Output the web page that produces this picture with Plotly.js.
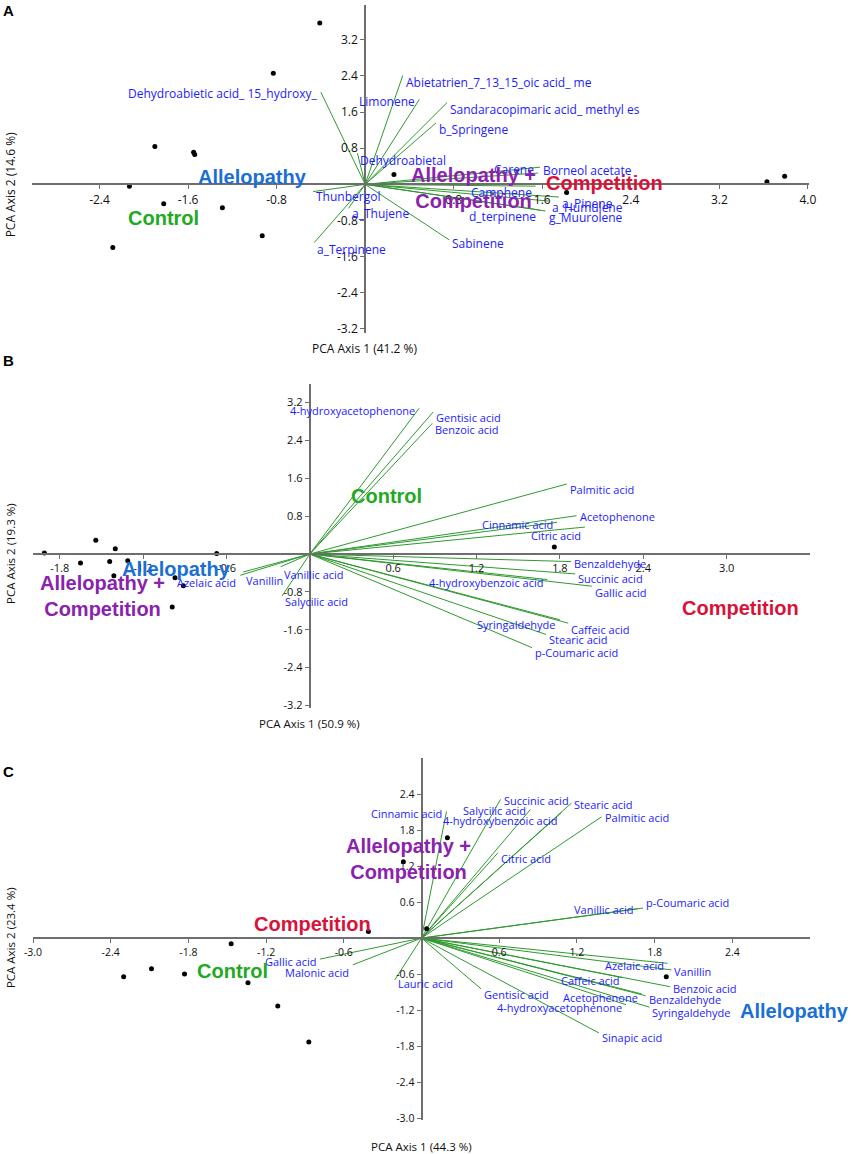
<!DOCTYPE html>
<html>
<head>
<meta charset="utf-8">
<script src="https://cdn.plot.ly/plotly-3.0.1.min.js"></script>
<style>
html,body{margin:0;padding:0;background:#ffffff;}
#chart{width:851px;height:1154px;}
</style>
</head>
<body>
<div id="chart"></div>
<script>
// ---------------- DATA : panel A (volatile terpenes) ----------------
const aScoreX = [-0.41, -0.83, -1.90, -1.55, -1.54, -2.13, -1.82, -1.29, -2.28, -0.93, 0.26, 1.82, 3.63, 3.79];
const aScoreY = [3.57, 2.46, 0.84, 0.71, 0.66, -0.04, -0.43, -0.52, -1.40, -1.14, 0.22, -0.18, 0.06, 0.18];
const aVarNames = ["Dehydroabietic acid_ 15_hydroxy_", "Abietatrien_7_13_15_oic acid_ me", "Limonene",
  "Sandaracopimaric acid_ methyl es", "b_Springene", "Dehydroabietal", "Thunbergol", "a_Thujene",
  "a_Terpinene", "Sabinene", "Carene", "Borneol acetate", "Camphene", "a_Pinene", "a_Humulene",
  "d_terpinene", "g_Muurolene"];
const aLoadX = [-0.40, 0.34, 0.49, 0.74, 0.64, -0.07, -0.47, -0.15, -0.46, 0.76, 1.56, 1.58, 1.54, 1.75, 1.66, 1.58, 1.63];
const aLoadY = [2.04, 2.41, 1.88, 1.81, 1.36, 0.69, -0.16, -0.53, -1.29, -1.23, 0.25, 0.38, -0.04, -0.28, -0.37, -0.57, -0.59];
const aGroups = ["Allelopathy", "Control", "Allelopathy +<br>Competition", "Competition"];
const aGroupX = [-1.02, -1.82, 0.98, 2.16];
const aGroupY = [0.17, -0.75, -0.09, 0.04];
const aXTicks = [-2.4, -1.6, -0.8, 0.8, 1.6, 2.4, 3.2, 4.0];
const aXTickText = ["-2.4", "-1.6", "-0.8", "0.8", "1.6", "2.4", "3.2", "4.0"];
const aYTicks = [-3.2, -2.4, -1.6, -0.8, 0.8, 1.6, 2.4, 3.2];
const aYTickText = ["-3.2", "-2.4", "-1.6", "-0.8", "0.8", "1.6", "2.4", "3.2"];
const aXTitle = "PCA Axis 1 (41.2 %)";
const aYTitle = "PCA Axis 2 (14.6 %)";

// ---------------- DATA : panel B (root phenolics) ----------------
const bScoreX = [-1.91, -1.54, -1.65, -1.40, -1.44, -1.31, -1.41, -0.97, -0.91, -0.99, -0.67, 1.76];
const bScoreY = [0.02, 0.29, -0.19, 0.11, -0.16, -0.14, -0.46, -0.50, -0.67, -1.12, 0.01, 0.15];
const bVarNames = ["4-hydroxyacetophenone", "Gentisic acid", "Benzoic acid", "Palmitic acid", "Acetophenone",
  "Cinnamic acid", "Citric acid", "Benzaldehyde", "Succinic acid", "Gallic acid", "4-hydroxybenzoic acid",
  "Caffeic acid", "Syringaldehyde", "Stearic acid", "p-Coumaric acid", "Vanillic acid", "Salycilic acid",
  "Vanillin", "Azelaic acid"];
const bLoadX = [0.787, 0.888, 0.881, 1.85, 1.92, 1.78, 1.98, 1.88, 1.91, 2.03, 1.71, 1.86, 1.80, 1.70, 1.60, -0.21, -0.20, -0.48, -0.50];
const bLoadY = [3.08, 3.00, 2.76, 1.48, 0.81, 0.67, 0.57, -0.16, -0.42, -0.68, -0.54, -1.46, -1.39, -1.70, -1.98, -0.27, -0.89, -0.38, -0.45];
const bGroups = ["Control", "Allelopathy", "Allelopathy +<br>Competition", "Competition"];
const bGroupX = [0.55, -0.96, -1.49, 3.10];
const bGroupY = [1.23, -0.31, -0.88, -1.14];
const bXTicks = [-1.8, -1.2, -0.6, 0.6, 1.2, 1.8, 2.4, 3.0];
const bXTickText = ["-1.8", "-1.2", "-0.6", "0.6", "1.2", "1.8", "2.4", "3.0"];
const bYTicks = [-3.2, -2.4, -1.6, -0.8, 0.8, 1.6, 2.4, 3.2];
const bYTickText = ["-3.2", "-2.4", "-1.6", "-0.8", "0.8", "1.6", "2.4", "3.2"];
const bXTitle = "PCA Axis 1 (50.9 %)";
const bYTitle = "PCA Axis 2 (19.3 %)";

// ---------------- DATA : panel C (soil phenolics) ----------------
const cScoreX = [-2.30, -2.085, -1.83, -1.47, -1.34, -1.11, -0.87, -0.41, -0.14, 0.20, 0.04, 1.89];
const cScoreY = [-0.645, -0.51, -0.60, -0.095, -0.745, -1.13, -1.73, 0.11, 1.27, 1.67, 0.155, -0.645];
const cVarNames = ["Cinnamic acid", "Succinic acid", "Salycilic acid", "4-hydroxybenzoic acid", "Stearic acid",
  "Palmitic acid", "Citric acid", "p-Coumaric acid", "Vanillic acid", "Azelaic acid", "Vanillin",
  "Benzoic acid", "Benzaldehyde", "Syringaldehyde", "Acetophenone", "Caffeic acid", "4-hydroxyacetophenone",
  "Gentisic acid", "Sinapic acid", "Gallic acid", "Malonic acid", "Lauric acid"];
const cLoadX = [0.193, 0.61, 0.84, 1.08, 1.158, 1.39, 0.59, 1.71, 1.67, 1.90, 1.93, 1.92, 1.73, 1.76, 1.70, 1.555, 1.58, 0.46, 1.37, -0.785, -0.53, -0.206];
const cLoadY = [2.11, 2.31, 2.14, 2.09, 2.25, 2.02, 1.42, 0.50, 0.49, -0.42, -0.53, -0.81, -0.96, -1.15, -0.93, -0.66, -1.11, -0.845, -1.58, -0.35, -0.445, -0.695];
const cGroups = ["Allelopathy +<br>Competition", "Competition", "Control", "Allelopathy"];
const cGroupX = [-0.10, -0.84, -1.46, 2.88];
const cGroupY = [1.32, 0.24, -0.54, -1.22];
const cXTicks = [-3.0, -2.4, -1.8, -1.2, -0.6, 0.6, 1.2, 1.8, 2.4];
const cXTickText = ["-3.0", "-2.4", "-1.8", "-1.2", "-0.6", "0.6", "1.2", "1.8", "2.4"];
const cYTicks = [-3.0, -2.4, -1.8, -1.2, -0.6, 0.6, 1.2, 1.8, 2.4];
const cYTickText = ["-3.0", "-2.4", "-1.8", "-1.2", "-0.6", "0.6", "1.2", "1.8", "2.4"];
const cXTitle = "PCA Axis 1 (44.3 %)";
const cYTitle = "PCA Axis 2 (23.4 %)";

// ---------------- STYLE / PLACEMENT ----------------
const FONT = "Open Sans, Noto Sans, sans-serif";
const BOLD_FONT = "Liberation Sans, Arial, sans-serif";
const AXIS_COLOR = "#6e6e6e";
const LINE_GREEN = "#2e9a2e";
const LABEL_BLUE = "#1c1cff";
const GROUP_COLORS = {
  "Allelopathy": "#1a6fd6",
  "Control": "#22aa22",
  "Allelopathy +<br>Competition": "#8b22ad",
  "Competition": "#d8133a"
};
// label side: "l" = text starts at vector tip, "r" = text ends at vector tip; dy = px downward
const aPlace = {
  "Dehydroabietic acid_ 15_hydroxy_": ["r", 1], "Abietatrien_7_13_15_oic acid_ me": ["l", 7],
  "Limonene": ["r", 2], "Sandaracopimaric acid_ methyl es": ["l", 7], "b_Springene": ["l", 7],
  "Dehydroabietal": ["l", 7], "Thunbergol": ["l", 5], "a_Thujene": ["l", 5], "a_Terpinene": ["l", 7],
  "Sabinene": ["l", 4], "Carene": ["r", -4], "Borneol acetate": ["l", 3], "Camphene": ["r", 6],
  "a_Pinene": ["l", 6], "a_Humulene": ["l", 6], "d_terpinene": ["r", 6], "g_Muurolene": ["l", 6]
};
const bPlace = {
  "4-hydroxyacetophenone": ["r", 2], "Gentisic acid": ["l", 5], "Benzoic acid": ["l", 6],
  "Palmitic acid": ["l", 6], "Acetophenone": ["l", 1], "Cinnamic acid": ["r", 2], "Citric acid": ["r", 8],
  "Benzaldehyde": ["l", 2], "Succinic acid": ["l", 5], "Gallic acid": ["l", 6],
  "4-hydroxybenzoic acid": ["r", 3], "Caffeic acid": ["l", 6], "Syringaldehyde": ["r", 5],
  "Stearic acid": ["l", 5], "p-Coumaric acid": ["l", 5], "Vanillic acid": ["l", 8],
  "Salycilic acid": ["l", 5], "Vanillin": ["l", 8], "Azelaic acid": ["r", 7]
};
const cPlace = {
  "Cinnamic acid": ["r", 2], "Succinic acid": ["l", 1], "Salycilic acid": ["r", 1],
  "4-hydroxybenzoic acid": ["r", 8], "Stearic acid": ["l", 1], "Palmitic acid": ["l", 1],
  "Citric acid": ["l", 6], "p-Coumaric acid": ["l", -6], "Vanillic acid": ["r", 1],
  "Azelaic acid": ["r", 2], "Vanillin": ["l", 2], "Benzoic acid": ["l", 2], "Benzaldehyde": ["l", 4],
  "Syringaldehyde": ["l", 5], "Acetophenone": ["r", 4], "Caffeic acid": ["r", 3],
  "4-hydroxyacetophenone": ["r", 3], "Gentisic acid": ["l", 6], "Sinapic acid": ["l", 5],
  "Gallic acid": ["r", 2], "Malonic acid": ["r", 8], "Lauric acid": ["l", 4]
};

const W = 851, H = 1154;
const panels = [
  { letter: "A", letterY: 10, ax: "", sx: aScoreX, sy: aScoreY, names: aVarNames, lx: aLoadX, ly: aLoadY,
    groups: aGroups, gx: aGroupX, gy: aGroupY, place: aPlace,
    xt: aXTicks, xtt: aXTickText, yt: aYTicks, ytt: aYTickText, xTitle: aXTitle, yTitle: aYTitle,
    xpx: [32, 809], ypx: [5, 333], xr: [-3.01, 4.01], yr: [-3.29, 3.97],
    labelSize: 12, tickSize: 12, titleSize: 12, titleGap: 15 },
  { letter: "B", letterY: 360, ax: "2", sx: bScoreX, sy: bScoreY, names: bVarNames, lx: bLoadX, ly: bLoadY,
    groups: bGroups, gx: bGroupX, gy: bGroupY, place: bPlace,
    xt: bXTicks, xtt: bXTickText, yt: bYTicks, ytt: bYTickText, xTitle: bXTitle, yTitle: bYTitle,
    xpx: [33, 810], ypx: [384, 708], xr: [-1.992, 3.60], yr: [-3.254, 3.593],
    labelSize: 11, tickSize: 11, titleSize: 11.5, titleGap: 15 },
  { letter: "C", letterY: 771, ax: "3", sx: cScoreX, sy: cScoreY, names: cVarNames, lx: cLoadX, ly: cLoadY,
    groups: cGroups, gx: cGroupX, gy: cGroupY, place: cPlace,
    xt: cXTicks, xtt: cXTickText, yt: cYTicks, ytt: cYTickText, xTitle: cXTitle, yTitle: cYTitle,
    xpx: [33, 810], ypx: [758, 1120], xr: [-3.0, 3.0], yr: [-3.03, 3.0],
    labelSize: 11, tickSize: 10.5, titleSize: 11.5, titleGap: 26 }
];

const traces = [];
const annotations = [];
const layout = {
  width: W, height: H,
  margin: { l: 0, r: 0, t: 0, b: 0, pad: 0 },
  paper_bgcolor: "#ffffff", plot_bgcolor: "rgba(0,0,0,0)",
  showlegend: false,
  font: { family: FONT, color: "#111111" },
  annotations: annotations
};

panels.forEach(p => {
  const xref = "x" + p.ax, yref = "y" + p.ax;
  const xd = [p.xpx[0] / W, p.xpx[1] / W];
  const yd = [1 - p.ypx[1] / H, 1 - p.ypx[0] / H];
  const xAxisPos = yd[0] + (0 - p.yr[0]) / (p.yr[1] - p.yr[0]) * (yd[1] - yd[0]);
  const yAxisPos = xd[0] + (0 - p.xr[0]) / (p.xr[1] - p.xr[0]) * (xd[1] - xd[0]);
  const common = {
    showgrid: false, zeroline: false, showline: true, linecolor: AXIS_COLOR, linewidth: 2,
    ticks: "outside", ticklen: 4, tickwidth: 1, tickcolor: AXIS_COLOR, tickmode: "array",
    tickfont: { family: FONT, size: p.tickSize, color: "#111111" }, fixedrange: true, anchor: "free"
  };
  layout["xaxis" + p.ax] = Object.assign({}, common, {
    domain: xd, range: p.xr, position: xAxisPos, side: "bottom",
    tickvals: p.xt, ticktext: p.xtt
  });
  layout["yaxis" + p.ax] = Object.assign({}, common, {
    domain: yd, range: p.yr, position: yAxisPos, side: "left",
    tickvals: p.yt, ticktext: p.ytt
  });

  // loading vectors
  const vx = [], vy = [];
  p.lx.forEach((x, i) => { vx.push(0, x, null); vy.push(0, p.ly[i], null); });
  traces.push({ type: "scatter", mode: "lines", x: vx, y: vy, xaxis: xref, yaxis: yref,
    line: { color: LINE_GREEN, width: 1 }, hoverinfo: "skip" });
  // sample scores
  traces.push({ type: "scatter", mode: "markers", x: p.sx, y: p.sy, xaxis: xref, yaxis: yref,
    marker: { color: "#000000", size: 5 }, hoverinfo: "x+y" });

  // vector labels
  p.names.forEach((name, i) => {
    const pl = p.place[name] || ["l", 5];
    annotations.push({
      xref: xref, yref: yref, x: p.lx[i], y: p.ly[i], text: name, showarrow: false,
      xanchor: pl[0] === "l" ? "left" : "right", yanchor: "middle",
      xshift: pl[0] === "l" ? 1 : -2, yshift: -pl[1],
      font: { family: FONT, size: p.labelSize, color: LABEL_BLUE }
    });
  });
  // group labels
  p.groups.forEach((g, i) => {
    annotations.push({
      xref: xref, yref: yref, x: p.gx[i], y: p.gy[i], text: "<b>" + g + "</b>", showarrow: false,
      xanchor: "center", yanchor: "middle", align: "center",
      font: { family: BOLD_FONT, size: 20, color: GROUP_COLORS[g] }
    });
  });
  // axis titles
  annotations.push({
    xref: xref, yref: "paper", x: 0, y: yd[0], yshift: -p.titleGap, text: p.xTitle, showarrow: false,
    xanchor: "center", yanchor: "middle", font: { family: FONT, size: p.titleSize, color: "#111111" }
  });
  annotations.push({
    xref: "paper", yref: yref, x: 10 / W, y: 0, text: p.yTitle, showarrow: false, textangle: -90,
    xanchor: "center", yanchor: "middle", font: { family: FONT, size: p.titleSize, color: "#111111" }
  });
  // panel letter
  annotations.push({
    xref: "paper", yref: "paper", x: 1 / W, y: 1 - p.letterY / H, text: "<b>" + p.letter + "</b>",
    showarrow: false, xanchor: "left", yanchor: "middle",
    font: { family: BOLD_FONT, size: 15, color: "#000000" }
  });
});

Plotly.newPlot("chart", traces, layout, { staticPlot: true, displayModeBar: false });
</script>
</body>
</html>
